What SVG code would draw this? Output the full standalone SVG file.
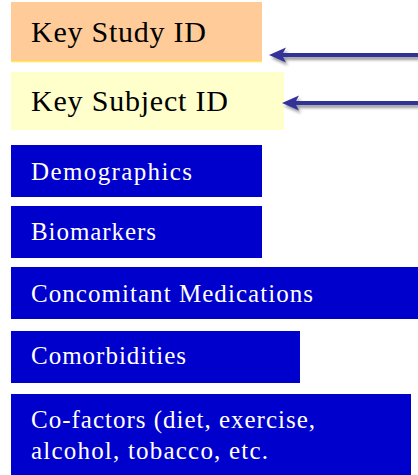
<svg xmlns="http://www.w3.org/2000/svg" width="418" height="475" viewBox="0 0 418 475">
<style>
.key{font-family:"Liberation Serif","Times New Roman",serif;font-size:30px;fill:#000}
.lbl{font-family:"Liberation Serif","Times New Roman",serif;font-size:25px;fill:#fff}
.blue{fill:#0000CC}
.arrow{stroke:#333399;stroke-width:4;fill:none}
</style>
<defs>
<filter id="sh" x="-10%" y="-100%" width="120%" height="300%">
<feGaussianBlur in="SourceAlpha" stdDeviation="1.5"/>
<feOffset dx="2" dy="3" result="b"/>
<feComponentTransfer><feFuncA type="linear" slope="0.4"/></feComponentTransfer>
<feMerge><feMergeNode/><feMergeNode in="SourceGraphic"/></feMerge>
</filter>
</defs>
<rect width="418" height="475" fill="#fff"/>
<g id="key-study">
<rect x="11" y="2" width="251" height="59" fill="#FFCC99"/>
<rect x="11" y="61" width="251" height="1.3" fill="#FFEE44"/>
<text class="key" x="31" y="42" textLength="175" lengthAdjust="spacing">Key Study ID</text>
</g>
<g id="key-subject">
<rect x="11" y="72" width="273" height="58" fill="#FFFFCC"/>
<text class="key" x="31" y="111" textLength="197" lengthAdjust="spacing">Key Subject ID</text>
</g>
<g id="demographics">
<rect class="blue" x="11" y="145" width="251" height="52"/>
<text class="lbl" x="31" y="180" textLength="161" lengthAdjust="spacing">Demographics</text>
</g>
<g id="biomarkers">
<rect class="blue" x="11" y="206" width="251" height="52"/>
<text class="lbl" x="31" y="240" textLength="125" lengthAdjust="spacing">Biomarkers</text>
</g>
<g id="conmeds">
<rect class="blue" x="11" y="267" width="407" height="52"/>
<text class="lbl" x="31" y="302" textLength="282" lengthAdjust="spacing">Concomitant Medications</text>
</g>
<g id="comorbidities">
<rect class="blue" x="11" y="331" width="289" height="52"/>
<text class="lbl" x="31" y="364" textLength="155" lengthAdjust="spacing">Comorbidities</text>
</g>
<g id="cofactors">
<rect class="blue" x="11" y="394" width="400" height="81"/>
<text class="lbl" x="31" y="428" textLength="284" lengthAdjust="spacing">Co-factors (diet, exercise,</text>
<text class="lbl" x="31" y="459" textLength="237" lengthAdjust="spacing">alcohol, tobacco, etc.</text>
</g>
<g id="connectors" filter="url(#sh)">
<line class="arrow" x1="418" y1="55" x2="282" y2="55"/>
<polygon points="269,55 286,47.5 282,55 286,62.5" fill="#333399"/>
<line class="arrow" x1="418" y1="103" x2="295" y2="103"/>
<polygon points="282,103 299,95.5 295,103 299,110.5" fill="#333399"/>
</g>
</svg>
